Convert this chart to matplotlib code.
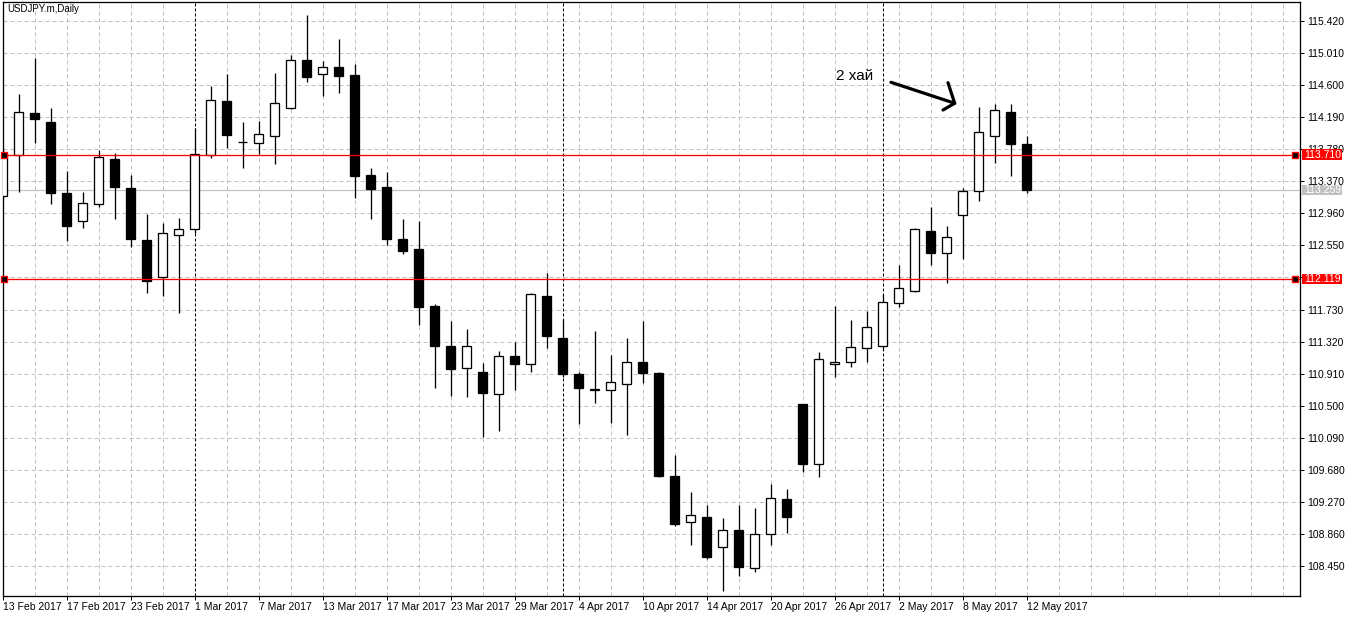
import numpy as np
import pandas as pd
import matplotlib
matplotlib.use("Agg")
import matplotlib.pyplot as plt
from matplotlib.patches import Rectangle
from matplotlib.transforms import blended_transform_factory

# ---------------- data ----------------
chart_title = "USDJPY.m,Daily"
dates = pd.bdate_range("2017-02-13", "2017-05-12")   # 65 daily bars

opens = [113.176, 113.703, 114.240, 114.125, 113.217, 112.859, 113.076, 113.651, 113.281, 112.619,
         112.142, 112.680, 112.764, 113.703, 114.397, 113.878, 113.856, 113.946, 114.311, 114.917,
         114.738, 114.828, 114.726, 113.447, 113.293, 112.628, 112.500, 111.772, 111.260, 110.979,
         110.928, 110.654, 111.132, 111.030, 111.903, 111.362, 110.906, 110.718, 110.697, 110.782,
         111.055, 110.915, 109.598, 109.009, 109.073, 108.690, 108.907, 108.421, 108.856, 109.303,
         110.518, 109.751, 111.030, 111.055, 111.234, 111.260, 111.810, 111.963, 112.731, 112.449,
         112.935, 113.242, 113.946, 114.256, 113.843]
highs = [113.796, 114.483, 114.947, 114.304, 113.502, 113.233, 113.770, 113.728, 113.451, 112.952,
         112.833, 112.897, 114.048, 114.589, 114.742, 114.125, 114.141, 114.759, 114.985, 115.497,
         114.908, 115.190, 114.874, 113.536, 113.489, 112.888, 112.862, 111.797, 111.584, 111.477,
         111.050, 111.200, 111.315, 111.938, 112.197, 111.593, 110.931, 111.452, 111.145, 111.362,
         111.584, 110.928, 109.870, 109.397, 109.227, 109.060, 109.227, 109.188, 109.503, 109.435,
         110.522, 111.187, 111.775, 111.596, 111.711, 111.925, 112.296, 112.769, 113.041, 112.795,
         113.281, 114.316, 114.359, 114.359, 113.946]
lows = [113.131, 113.237, 113.856, 113.076, 112.610, 112.773, 113.045, 112.892, 112.534, 111.938,
        111.903, 111.682, 112.713, 113.672, 113.800, 113.544, 113.719, 113.595, 114.298, 114.644,
        114.465, 114.503, 113.160, 112.892, 112.559, 112.444, 111.536, 110.731, 110.628, 110.616,
        110.104, 110.181, 110.705, 110.935, 111.242, 110.867, 110.266, 110.535, 110.279, 110.126,
        110.795, 109.595, 108.962, 108.719, 108.544, 108.135, 108.327, 108.378, 108.719, 108.869,
        109.653, 109.593, 110.871, 110.999, 111.059, 111.213, 111.766, 111.954, 112.304, 112.073,
        112.380, 113.122, 113.608, 113.442, 113.217]
closes = [113.715, 114.252, 114.163, 113.224, 112.802, 113.089, 113.677, 113.301, 112.628, 112.099,
          112.705, 112.756, 113.715, 114.410, 113.966, 113.876, 113.971, 114.368, 114.917, 114.708,
          114.828, 114.720, 113.442, 113.275, 112.636, 112.483, 111.766, 111.268, 110.974, 111.260,
          110.667, 111.132, 111.038, 111.925, 111.396, 110.910, 110.731, 110.701, 110.800, 111.055,
          110.922, 109.605, 108.992, 109.099, 108.569, 108.907, 108.442, 108.856, 109.316, 109.081,
          109.759, 111.094, 111.055, 111.247, 111.503, 111.823, 112.002, 112.756, 112.457, 112.662,
          113.242, 113.997, 114.278, 113.851, 113.259]

x_tick_labels = ["13 Feb 2017", "17 Feb 2017", "23 Feb 2017", "1 Mar 2017", "7 Mar 2017",
                 "13 Mar 2017", "17 Mar 2017", "23 Mar 2017", "29 Mar 2017", "4 Apr 2017",
                 "10 Apr 2017", "14 Apr 2017", "20 Apr 2017", "26 Apr 2017", "2 May 2017",
                 "8 May 2017", "12 May 2017"]
y_ticks = [115.420, 115.010, 114.600, 114.190, 113.780, 113.370, 112.960, 112.550, 112.140,
           111.730, 111.320, 110.910, 110.500, 110.090, 109.680, 109.270, 108.860, 108.450]
y_tick_labels = ["115.420", "115.010", "114.600", "114.190", "113.780", "113.370", "112.960",
                 "112.550", "", "111.730", "111.320", "110.910", "110.500", "110.090", "109.680",
                 "109.270", "108.860", "108.450"]
level_lines = [113.710, 112.119]
bid_price = 113.259

annotation_text = "2 хай"
annotation_xy = (52.08, 114.717)
arrow_shaft_x = [55.52, 59.50]
arrow_shaft_y = [114.636, 114.368]
arrow_head_x = [59.08, 59.50, 58.77]
arrow_head_y = [114.631, 114.368, 114.282]

# ---------------- figure ----------------
W, H = 1352, 617
fig = plt.figure(figsize=(W / 100, H / 100), dpi=100)
ax_l, ax_r, ax_t, ax_b = 2.5, 1300.0, 2.0, 596.0
ax = fig.add_axes([ax_l / W, (H - ax_b) / H, (ax_r - ax_l) / W, (ax_b - ax_t) / H])
ax.set_facecolor("white")

x = np.arange(len(opens))
o = np.array(opens); c = np.array(closes); hi = np.array(highs); lo = np.array(lows)

PX = 0.72  # one pixel in points
FONT = "Liberation Sans"

# grid
for yv in y_ticks:
    ax.axhline(yv, color="#c0c0c0", lw=PX, ls=(0, (4, 3)), zorder=0.5)
month_starts = [i for i in range(1, len(dates)) if dates[i].month != dates[i - 1].month]
for xv in range(0, 82, 2):
    if xv in month_starts:
        continue
    ax.axvline(xv, color="#c0c0c0", lw=PX, ls=(0, (4, 3)), zorder=0.5)
for xv in month_starts:
    ax.axvline(xv, color="black", lw=PX, ls=(0, (3, 2)), zorder=0.6)

# bid line
ax.axhline(bid_price, color="#c0c0c0", lw=PX * 1.2, zorder=0.7)

# candles
ax.vlines(x, lo, hi, color="black", lw=PX * 1.3, zorder=2)
bull = c >= o
ax.bar(x[bull], (c - o)[bull], bottom=o[bull], width=0.56, color="white",
       edgecolor="black", linewidth=PX * 1.3, zorder=3)
ax.bar(x[~bull], (o - c)[~bull], bottom=c[~bull], width=0.56, color="black",
       edgecolor="black", linewidth=PX * 1.3, zorder=3)

# horizontal level lines with end markers
for lv in level_lines:
    ax.axhline(lv, color="#ff0000", lw=PX * 1.3, zorder=4)
    ax.plot([0.1, 80.75], [lv, lv], ls="none", marker="s", ms=4, mfc="black",
            mec="#ff0000", mew=1, zorder=5, clip_on=False)

ax.set_xlim(-0.01, (ax_r - 2.7) / 16)
ax.set_ylim(115.42 - (ax_b - 21) / 78.2, 115.42 + (21 - ax_t) / 78.2)

# axes ticks
ax.set_xticks(np.arange(0, len(opens), 4))
ax.set_xticklabels(x_tick_labels, ha="left", fontfamily=FONT, fontsize=7.5)
ax.tick_params(axis="x", direction="out", length=3, width=PX, pad=1, colors="black")
ax.yaxis.tick_right()
ax.set_yticks(y_ticks)
ax.set_yticklabels(y_tick_labels, fontfamily=FONT, fontsize=7.5)
ax.tick_params(axis="y", direction="out", length=3, width=PX, pad=2, colors="black")
for sp in ax.spines.values():
    sp.set_color("black")
    sp.set_linewidth(PX * 1.3)

# price tags on the right axis
tr = blended_transform_factory(ax.transAxes, ax.transData)
axw = ax_r - ax_l
tag_h = 10.5 / 78.2
for price, col in [(level_lines[0], "#ff0000"), (level_lines[1], "#ff0000"), (bid_price, "#c0c0c0")]:
    ax.add_patch(Rectangle((1 + 2.0 / axw, price - tag_h / 2), 40 / axw, tag_h, transform=tr,
                           facecolor=col, edgecolor="none", clip_on=False, zorder=10))
    ax.text(1 + 4.0 / axw, price, f"{price:.3f}", transform=tr, color="white", fontsize=7.5,
            fontfamily=FONT, ha="left", va="center", clip_on=False, zorder=11)

# title
ax.text(4.5 / axw, 1 - 7.5 / (ax_b - ax_t), chart_title, transform=ax.transAxes, fontsize=7,
        fontfamily=FONT, ha="left", va="center", zorder=12)

# annotation
ax.text(annotation_xy[0], annotation_xy[1], annotation_text, fontsize=11, fontfamily=FONT,
        ha="left", va="center", zorder=12)
ax.plot(arrow_shaft_x, arrow_shaft_y, color="black", lw=2.3, solid_capstyle="round", zorder=12)
ax.plot(arrow_head_x, arrow_head_y, color="black", lw=2.3, solid_capstyle="round",
        solid_joinstyle="round", zorder=12)

fig.savefig("out.png", dpi=100, facecolor="white")
